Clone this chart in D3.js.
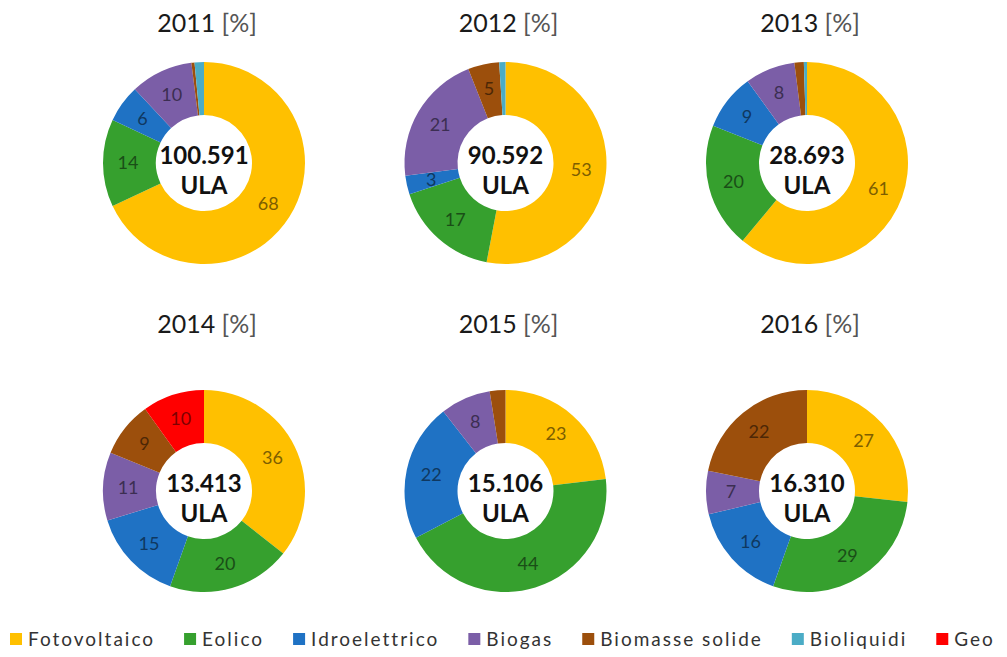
<!DOCTYPE html>
<html>
<head>
<meta charset="utf-8">
<script src="https://cdn.jsdelivr.net/npm/d3@7"></script>
<style>
  html, body { margin: 0; padding: 0; background: #fff; }
  svg { display: block; }
</style>
</head>
<body>
<svg id="chart" width="1007" height="657"></svg>
<script>
// ---- data ----
const categories = ["Fotovoltaico", "Eolico", "Idroelettrico", "Biogas", "Biomasse solide", "Bioliquidi", "Geo"];
const colors = ["#FFC000", "#36A02E", "#1F72C4", "#7B5EA7", "#9C4F0C", "#4BACC6", "#FF0000"];
const years = ["2011", "2012", "2013", "2014", "2015", "2016"];
const totals = ["100.591", "90.592", "28.693", "13.413", "15.106", "16.310"];
const values2011 = [68, 14, 6, 10, 0.5, 1.5, 0];
const values2012 = [53, 17, 3, 21, 5, 1, 0];
const values2013 = [61, 20, 9, 8, 1.5, 0.5, 0];
const values2014 = [36, 20, 15, 11, 9, 0, 10];
const values2015 = [23, 44, 22, 8, 2.5, 0, 0];
const values2016 = [27, 29, 16, 7, 22, 0, 0];
const seriesValues = [values2011, values2012, values2013, values2014, values2015, values2016];
const unitLabel = "ULA";
const titleSuffix = "[%]";

// ---- layout ----
const svg = d3.select("#chart");
const colX = d3.scalePoint().domain([0, 1, 2]).range([204, 807]);
const rowY = [163, 491];
const titleY = [32, 333];
const outerR = 101, innerR = 48;
const font = "Lato, 'Open Sans', sans-serif";

const color = d3.scaleOrdinal().domain(categories).range(colors);
const pie = d3.pie().sort(null).value(d => d.value);
const arc = d3.arc().innerRadius(innerR).outerRadius(outerR);
const labelArc = d3.arc().innerRadius(52).outerRadius(100);

years.forEach((yr, i) => {
  const col = i % 3, row = Math.floor(i / 3);
  const cx = colX(col), cy = rowY[row];
  const data = categories.map((c, k) => ({ cat: c, value: seriesValues[i][k] }));

  // title
  const t = svg.append("text")
    .attr("x", cx + 3).attr("y", titleY[row])
    .attr("text-anchor", "middle")
    .attr("font-family", font).attr("font-size", 25);
  t.append("tspan").attr("fill", "#1a1a1a").text(yr + " ");
  t.append("tspan").attr("fill", "#555").text(titleSuffix);

  const g = svg.append("g").attr("transform", `translate(${cx},${cy})`);
  const arcs = pie(data);
  g.selectAll("path").data(arcs.filter(d => d.data.value > 0)).join("path")
    .attr("d", arc)
    .attr("fill", d => color(d.data.cat));

  g.selectAll("text.lbl").data(arcs.filter(d => d.data.value >= 3)).join("text")
    .attr("class", "lbl")
    .attr("transform", d => `translate(${labelArc.centroid(d)})`)
    .attr("text-anchor", "middle")
    .attr("dy", "0.35em")
    .attr("font-family", font).attr("font-size", 18)
    .attr("fill", d => d3.color(color(d.data.cat)).darker(2))
    .text(d => d3.format("d")(d.data.value));

  g.append("text").attr("y", 1).attr("text-anchor", "middle")
    .attr("font-family", font).attr("font-weight", "bold").attr("font-size", 24)
    .attr("fill", "#111").text(totals[i]);
  g.append("text").attr("y", 31).attr("text-anchor", "middle")
    .attr("font-family", font).attr("font-weight", "bold").attr("font-size", 24)
    .attr("fill", "#111").text(unitLabel);
});

// ---- legend ----
const legend = svg.append("g").attr("transform", "translate(10,639)");
let lx = 0;
const gaps = 29;
categories.forEach((c, k) => {
  const it = legend.append("g").attr("transform", `translate(${lx},0)`);
  it.append("rect").attr("x", 0).attr("y", -6).attr("width", 12).attr("height", 12).attr("fill", color(c));
  const tx = it.append("text").attr("x", 18).attr("dy", "0.35em")
    .attr("font-family", font).attr("font-size", 19).attr("fill", "#333")
    .attr("letter-spacing", 2).text(c);
  lx += 18 + tx.node().getComputedTextLength() + gaps;
});
</script>
</body>
</html>
